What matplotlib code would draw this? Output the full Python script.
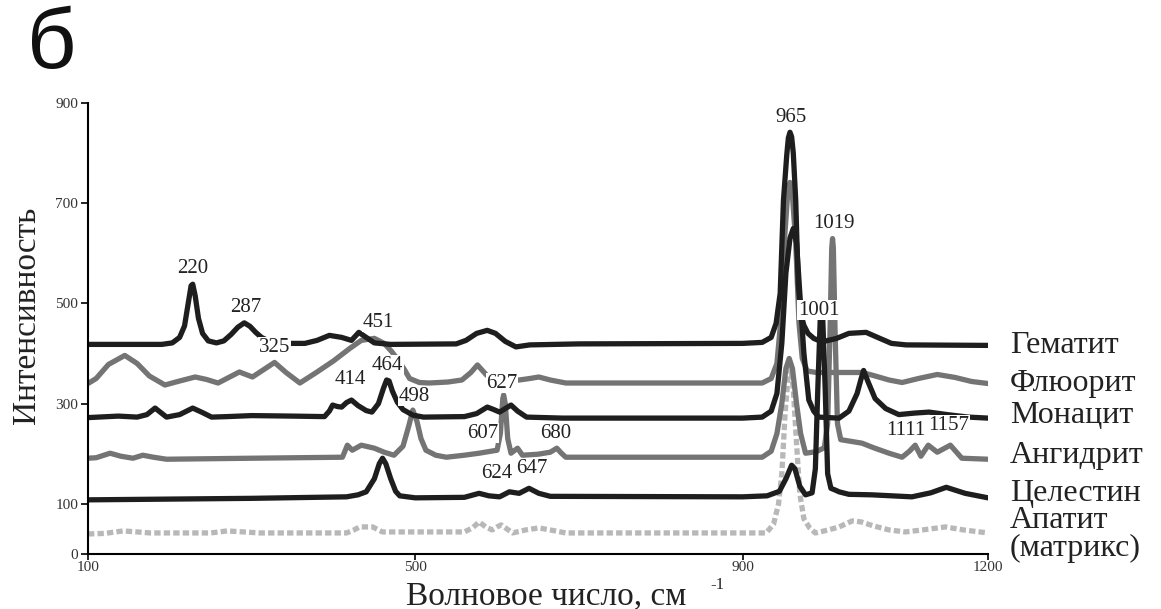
import numpy as np
import matplotlib.pyplot as plt

# spectra: (wavenumber, intensity) pairs, offsets included
hematite = [(100, 418), (190, 418), (203, 421), (212, 432), (218, 455), (222, 495), (226, 535),
            (228, 538), (231, 515), (235, 470), (240, 440), (247, 425), (257, 421), (266, 425),
            (275, 438), (283, 452), (291, 461), (298, 454), (305, 442), (312, 432), (322, 424),
            (335, 420), (365, 420), (380, 426), (395, 436), (410, 432), (422, 426), (431, 442),
            (440, 432), (450, 421), (470, 418), (550, 419), (562, 426), (575, 440), (588, 446),
            (598, 440), (610, 424), (623, 413), (640, 417), (700, 419), (900, 420), (924, 422),
            (935, 432), (941, 460), (946, 520), (950, 705), (954, 795), (956, 830), (958, 841),
            (960, 832), (962, 800), (965, 705), (968, 540), (971, 480), (975, 456), (980, 440),
            (987, 430), (997, 423), (1015, 430), (1030, 440), (1051, 442), (1065, 432), (1082, 420),
            (1100, 417), (1200, 416)]

fluorite = [(100, 340), (110, 350), (125, 378), (145, 396), (160, 380), (175, 355), (194, 337),
            (212, 345), (231, 353), (245, 348), (259, 341), (272, 352), (285, 363), (301, 353),
            (315, 368), (328, 382), (342, 362), (359, 341), (380, 363), (400, 385), (420, 410),
            (434, 426), (450, 430), (462, 420), (471, 404), (480, 385), (487, 367), (493, 350),
            (505, 342), (517, 341), (540, 343), (557, 347), (568, 362), (576, 377), (587, 357),
            (600, 343), (627, 347), (640, 350), (651, 353), (665, 347), (684, 341), (924, 341),
            (935, 350), (942, 380), (947, 470), (951, 620), (955, 715), (958, 741), (961, 715),
            (965, 620), (969, 460), (973, 390), (979, 365), (990, 362), (1046, 362), (1060, 356),
            (1079, 347), (1095, 342), (1115, 350), (1138, 358), (1160, 352), (1180, 344), (1200, 340)]

monazite = [(100, 272), (137, 275), (160, 273), (172, 278), (182, 291), (189, 282), (196, 273),
            (212, 278), (228, 291), (240, 282), (251, 273), (270, 274), (300, 276), (350, 275),
            (389, 274), (395, 285), (399, 297), (405, 294), (410, 293), (416, 302), (422, 307),
            (430, 296), (440, 286), (447, 283), (455, 300), (461, 330), (465, 347), (468, 345),
            (472, 325), (478, 303), (485, 288), (497, 277), (510, 273), (560, 274), (575, 280),
            (588, 293), (596, 288), (603, 283), (610, 290), (617, 297), (625, 285), (636, 273),
            (680, 271), (900, 271), (924, 273), (935, 285), (942, 320), (948, 420), (953, 560),
            (958, 630), (962, 649), (966, 620), (970, 520), (975, 400), (981, 307), (987, 285),
            (993, 273), (1018, 271), (1030, 285), (1040, 320), (1045, 350), (1048, 366),
            (1053, 345), (1062, 310), (1075, 290), (1091, 278), (1110, 281), (1128, 283),
            (1150, 278), (1176, 273), (1200, 271)]

anhydrite = [(100, 191), (110, 192), (127, 201), (140, 195), (155, 191), (167, 197), (180, 193),
             (196, 189), (300, 191), (411, 193), (414, 205), (417, 217), (423, 207), (434, 217),
             (450, 211), (462, 203), (474, 197), (485, 215), (492, 255), (497, 287), (502, 265),
             (507, 230), (513, 207), (525, 197), (538, 193), (560, 197), (578, 201), (600, 207),
             (604, 240), (607, 310), (608, 317), (610, 300), (613, 230), (617, 201), (621, 206),
             (625, 211), (631, 197), (650, 199), (665, 203), (673, 211), (678, 202), (684, 193),
             (924, 193), (935, 205), (942, 240), (948, 300), (953, 370), (957, 390), (961, 370),
             (966, 300), (971, 240), (977, 201), (990, 204), (1000, 212), (1004, 260), (1007, 450),
             (1009, 610), (1010, 629), (1011, 610), (1013, 450), (1016, 260), (1020, 228),
             (1035, 224), (1046, 221), (1060, 212), (1079, 201), (1095, 193), (1104, 205),
             (1111, 217), (1118, 195), (1127, 217), (1138, 203), (1146, 210), (1154, 217),
             (1168, 191), (1200, 189)]

celestine = [(100, 108), (300, 111), (416, 114), (430, 118), (440, 124), (450, 150), (456, 180),
             (460, 191), (464, 180), (470, 150), (476, 125), (481, 116), (500, 112), (560, 113),
             (578, 121), (590, 116), (603, 114), (615, 124), (627, 121), (639, 131), (651, 121),
             (665, 115), (900, 114), (930, 116), (945, 125), (953, 150), (960, 177), (964, 170),
             (970, 135), (977, 118), (985, 122), (989, 170), (992, 330), (995, 470), (998, 470),
             (1001, 330), (1004, 160), (1008, 131), (1014, 127), (1018, 124), (1030, 119),
             (1058, 118), (1107, 114), (1130, 122), (1149, 133), (1172, 121), (1200, 112)]

apatite = [(100, 40), (120, 41), (143, 46), (160, 44), (176, 42), (250, 42), (270, 46), (290, 44),
           (310, 42), (416, 42), (425, 48), (432, 54), (448, 54), (455, 48), (460, 44), (560, 44),
           (570, 52), (578, 64), (586, 54), (594, 48), (600, 54), (605, 58), (612, 50), (619, 42),
           (635, 48), (651, 52), (668, 47), (684, 42), (929, 42), (938, 60), (944, 100), (948, 160),
           (952, 280), (956, 360), (959, 370), (962, 330), (966, 220), (970, 120), (975, 70),
           (982, 52), (989, 42), (1005, 48), (1018, 54), (1034, 66), (1045, 64), (1060, 56),
           (1079, 48), (1099, 44), (1120, 48), (1148, 54), (1170, 48), (1200, 42)]

names = ['Гематит', 'Флюорит', 'Монацит', 'Ангидрит', 'Целестин', 'Апатит', '(матрикс)']
name_y = [416, 341, 277, 197, 120, 66, 12]

peak_text = ['220', '287', '325', '451', '414', '464', '498', '627', '607', '680', '624', '647',
             '965', '1019', '1001', '1111', '1157']
peak_x = [228, 293, 328, 455, 420, 466, 499, 606, 582, 672, 599, 643, 959, 1012, 993, 1099, 1152]
peak_y = [570, 492, 412, 462, 347, 376, 315, 341, 241, 241, 161, 171, 871, 659, 486, 247, 257]

y_ticks = [0, 100, 300, 500, 700, 900]
x_ticks = [100, 500, 900, 1200]

serif = 'Liberation Serif'
dark = '#1e1e1e'
mid = '#747474'
light = '#b8b8b8'

fig = plt.figure(figsize=(11.61, 6.09), dpi=100)
ax = fig.add_axes([88 / 1161, 1 - 554 / 609, 900 / 1161, (554 - 102.7) / 609])

line_kw = dict(lw=3.8, solid_joinstyle='round', solid_capstyle='round')
a = np.array(apatite)
ax.plot(a[:, 0], a[:, 1], color=light, lw=3.8, linestyle=(0, (1.2, 0.6)), dash_capstyle='butt')
for spec, col in [(anhydrite, mid), (fluorite, mid), (celestine, dark), (monazite, dark), (hematite, dark)]:
    s = np.array(spec)
    ax.plot(s[:, 0], s[:, 1], color=col, **line_kw)

# peak positions
for t, px, py in zip(peak_text, peak_x, peak_y):
    ax.text(px, py, t, ha='center', va='center', fontsize=15, family=serif, color='#222222',
            bbox=dict(facecolor='white', edgecolor='none', pad=0.5), zorder=5)

# mineral names on the right
for n, ny in zip(names, name_y):
    ax.text(1227, ny, n, ha='left', va='center', fontsize=23, family=serif, color='#222222',
            clip_on=False)

ax.set_xlim(100, 1200)
ax.set_ylim(0, 900)
ax.spines['top'].set_visible(False)
ax.spines['right'].set_visible(False)
ax.spines['left'].set_linewidth(1.5)
ax.spines['bottom'].set_linewidth(1.5)
ax.set_xticks(x_ticks)
ax.set_yticks(y_ticks)
ax.tick_params(axis='y', length=5, width=1.2, pad=2)
ax.tick_params(axis='x', length=4, width=1.2, pad=1)
for lab in ax.get_xticklabels() + ax.get_yticklabels():
    lab.set_family(serif)
    lab.set_fontsize(11)
    lab.set_color('#333333')

fig.text(546 / 1161, 1 - 604 / 609, 'Волновое число, см', ha='center', va='baseline',
         fontsize=24, family=serif, color='#222222')
fig.text(717 / 1161, 1 - 585 / 609, '-1', ha='center', va='center', fontsize=12, family=serif,
         color='#222222')
fig.text(27 / 1161, 1 - 315 / 609, 'Интенсивность', ha='center', va='center', rotation=90,
         fontsize=24, family=serif, color='#222222')
fig.text(52 / 1161, 1 - 46 / 609, 'б', ha='center', va='center', fontsize=62,
         family='Liberation Sans', color='#111111')

fig.savefig('out.png', dpi=100)
